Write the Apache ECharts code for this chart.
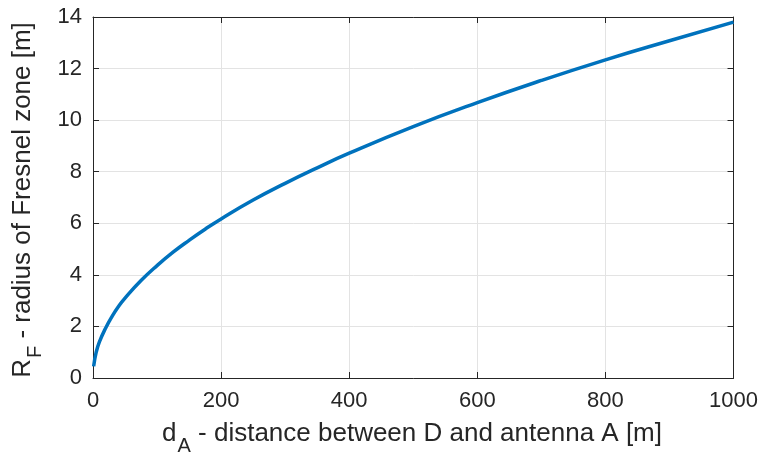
<!DOCTYPE html>
<html>
<head>
<meta charset="utf-8">
<script src="https://cdn.jsdelivr.net/npm/echarts@6/dist/echarts.min.js"></script>
<style>
  html, body { margin: 0; padding: 0; background: #fff; }
  #chart { width: 761px; height: 458px; }
</style>
</head>
<body>
<div id="chart"></div>
<script>
// distance d_A [m] and Fresnel radius R_F [m]
const distance = [1, 5, 10, 20, 30, 40, 50, 75, 100, 125, 150, 175, 200, 250, 300, 350, 400, 500, 600, 700, 800, 900, 1000];
const radius = [0.45, 1.0, 1.4, 1.95, 2.4, 2.78, 3.1, 3.78, 4.36, 4.88, 5.34, 5.77, 6.17, 6.9, 7.55, 8.15, 8.72, 9.75, 10.68, 11.54, 12.34, 13.08, 13.8];
const xTicks = [0, 200, 400, 600, 800, 1000];
const yTicks = [0, 2, 4, 6, 8, 10, 12, 14];

const font = 'Liberation Sans, Arial, sans-serif';
const axisColor = '#262626';
const gridColor = '#e3e3e3';

let points = distance.map((d, i) => [d, radius[i]]);

let chart = echarts.init(document.getElementById('chart'));

function mainAxis(ticks, show) {
    return {
        type: 'value',
        min: ticks[0],
        max: ticks[ticks.length - 1],
        interval: ticks[1] - ticks[0],
        axisLine: { show: true, onZero: false, lineStyle: { color: axisColor, width: 1 } },
        axisTick: { show: true, inside: true, length: 6, lineStyle: { color: axisColor } },
        axisLabel: {
            show: show, color: axisColor, fontSize: 22, fontFamily: font, margin: 12,
            formatter: v => String(v)
        },
        splitLine: { show: show, lineStyle: { color: gridColor, width: 1 } }
    };
}

let xBottom = mainAxis(xTicks, true);
xBottom.position = 'bottom';
let xTop = mainAxis(xTicks, false);
xTop.position = 'top';
let yLeft = mainAxis(yTicks, true);
yLeft.position = 'left';
yLeft.axisLabel.margin = 11;
let yRight = mainAxis(yTicks, false);
yRight.position = 'right';

let titleRich = {
    m: { fontSize: 26, fontFamily: font, fill: axisColor, verticalAlign: 'top' },
    s: { fontSize: 20, fontFamily: font, fill: axisColor, verticalAlign: 'top', padding: [15, 0, 0, 1] }
};

chart.setOption({
    animation: false,
    grid: { left: 93, right: 26, top: 17, bottom: 80, containLabel: false },
    xAxis: [xBottom, xTop],
    yAxis: [yLeft, yRight],
    graphic: [
        {
            type: 'text',
            x: 412,
            y: 421,
            style: {
                text: '{m|d}{s|A}{m| - distance between D and antenna A [m]}',
                align: 'center',
                verticalAlign: 'top',
                rich: titleRich
            }
        },
        {
            type: 'text',
            x: 10,
            y: 200,
            rotation: Math.PI / 2,
            style: {
                text: '{m|R}{s|F}{m| - radius of Fresnel zone [m]}',
                align: 'center',
                verticalAlign: 'top',
                rich: titleRich
            }
        }
    ],
    series: [{
        type: 'line',
        data: points,
        smooth: true,
        showSymbol: false,
        lineStyle: { color: '#0072BD', width: 3.5 }
    }]
});
</script>
</body>
</html>
